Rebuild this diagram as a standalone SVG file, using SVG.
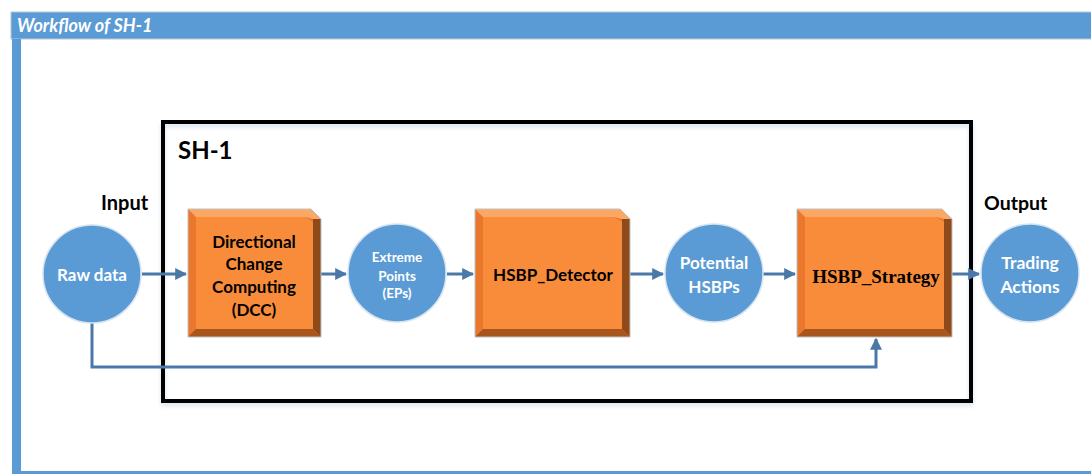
<svg xmlns="http://www.w3.org/2000/svg" width="1091" height="474" viewBox="0 0 1091 474">
<style>
.circ{fill:#5B9BD5;stroke:#D6E3F0;stroke-width:1.5}
.ct{font-family:Lato,"Liberation Sans",sans-serif;font-weight:bold;fill:#FFFFFF;text-anchor:middle}
.bt{font-family:Lato,"Liberation Sans",sans-serif;font-weight:bold;fill:#000000;text-anchor:middle}
.lbl{font-family:Lato,"Liberation Sans",sans-serif;font-weight:bold;fill:#000000}
.conn{fill:none;stroke:#4A78A8;stroke-width:3}
.face{fill:#F98C3A}
.top{fill:#FBA864}
.left{fill:#E9782C}
.right{fill:#8E4A1A}
.bot{fill:#A8561C}
.edge{fill:none;stroke:#C0C0C0;stroke-width:1}
</style>
<defs>
<marker id="arr" viewBox="0 0 10 10" refX="9" refY="5" markerWidth="4" markerHeight="4" orient="auto" markerUnits="strokeWidth">
<path d="M0,0 L10,5 L0,10 z" fill="#4A78A8"/>
</marker>
<filter id="sh" x="-5%" y="-5%" width="110%" height="115%">
<feDropShadow dx="0" dy="3" stdDeviation="2" flood-color="#9DB8D9" flood-opacity="0.4"/>
</filter>
</defs>
<rect x="0" y="0" width="1091" height="474" fill="#FFFFFF"/>
<g id="frame">
<rect x="11" y="12" width="1085" height="27" fill="#5B9BD5" stroke="#B7C6D6" stroke-width="1"/>
<text x="17" y="32" font-family="Lato,'Liberation Sans',sans-serif" font-size="18" font-weight="bold" font-style="italic" fill="#FFFFFF">Workflow of SH-1</text>
<rect x="12" y="39" width="9" height="435" fill="#5B9BD5"/>
<rect x="12" y="471" width="1079" height="3" fill="#5B9BD5"/>
</g>
<g id="sh1">
<rect x="163" y="122" width="808" height="279" fill="none" stroke="#000000" stroke-width="4" filter="url(#sh)"/>
<text class="lbl" x="178" y="159" font-size="24">SH-1</text>
</g>
<text id="input" class="lbl" x="101" y="210" font-size="20">Input</text>
<text id="output" class="lbl" x="984" y="210" font-size="19.5">Output</text>
<g id="connectors">
<line class="conn" x1="142" y1="274" x2="186" y2="274" marker-end="url(#arr)"/>
<line class="conn" x1="321" y1="274" x2="346" y2="274" marker-end="url(#arr)"/>
<line class="conn" x1="447" y1="274" x2="473" y2="274" marker-end="url(#arr)"/>
<line class="conn" x1="630" y1="274" x2="663" y2="274" marker-end="url(#arr)"/>
<line class="conn" x1="763" y1="274" x2="795" y2="274" marker-end="url(#arr)"/>
<line class="conn" x1="952" y1="274" x2="979" y2="274" marker-end="url(#arr)"/>
<polyline class="conn" points="92,323 92,367 876,367 876,339" marker-end="url(#arr)"/>
</g>
<g id="rawdata">
<circle class="circ" cx="92" cy="274" r="49"/>
<text class="ct" x="92" y="281" font-size="17">Raw data</text>
</g>
<g id="dcc">
<polygon class="left" points="188,209 311,209 321,219 321,337 188,337"/>
<polygon class="top" points="188,209 311,209 321,219 313,219 305,217 196,217"/>
<polygon class="right" points="321,219 321,337 313,329 313,219"/>
<polygon class="bot" points="188,337 321,337 313,329 196,329"/>
<polygon class="face" points="196,217 305,217 313,222 313,329 196,329"/>
<polygon class="edge" points="188,209 311,209 321,219 321,337 188,337"/>
<text class="bt" x="254" y="248" font-size="17">Directional</text>
<text class="bt" x="254" y="270" font-size="17">Change</text>
<text class="bt" x="254" y="293" font-size="17">Computing</text>
<text class="bt" x="254" y="316" font-size="17">(DCC)</text>
</g>
<g id="eps">
<circle class="circ" cx="397" cy="273" r="49"/>
<text class="ct" x="397" y="262" font-size="13.5">Extreme</text>
<text class="ct" x="397" y="281" font-size="13.5">Points</text>
<text class="ct" x="397" y="298" font-size="13.5">(EPs)</text>
</g>
<g id="detector">
<polygon class="left" points="475,209 620,209 630,219 630,337 475,337"/>
<polygon class="top" points="475,209 620,209 630,219 622,219 614,217 483,217"/>
<polygon class="right" points="630,219 630,337 622,329 622,219"/>
<polygon class="bot" points="475,337 630,337 622,329 483,329"/>
<polygon class="face" points="483,217 614,217 622,222 622,329 483,329"/>
<polygon class="edge" points="475,209 620,209 630,219 630,337 475,337"/>
<text class="bt" x="553" y="281" font-size="17">HSBP_Detector</text>
</g>
<g id="potential">
<circle class="circ" cx="714" cy="273" r="49"/>
<text class="ct" x="714" y="269" font-size="17">Potential</text>
<text class="ct" x="714" y="293" font-size="17">HSBPs</text>
</g>
<g id="strategy">
<polygon class="left" points="797,209 942,209 952,219 952,337 797,337"/>
<polygon class="top" points="797,209 942,209 952,219 944,219 936,217 805,217"/>
<polygon class="right" points="952,219 952,337 944,329 944,219"/>
<polygon class="bot" points="797,337 952,337 944,329 805,329"/>
<polygon class="face" points="805,217 936,217 944,222 944,329 805,329"/>
<polygon class="edge" points="797,209 942,209 952,219 952,337 797,337"/>
<text x="876" y="283" font-family="'Liberation Serif',serif" font-size="19" font-weight="bold" fill="#000000" text-anchor="middle">HSBP_Strategy</text>
</g>
<g id="trading">
<circle class="circ" cx="1030" cy="273" r="49"/>
<text class="ct" x="1030" y="269" font-size="17.5">Trading</text>
<text class="ct" x="1030" y="293" font-size="17.5">Actions</text>
</g>
</svg>
